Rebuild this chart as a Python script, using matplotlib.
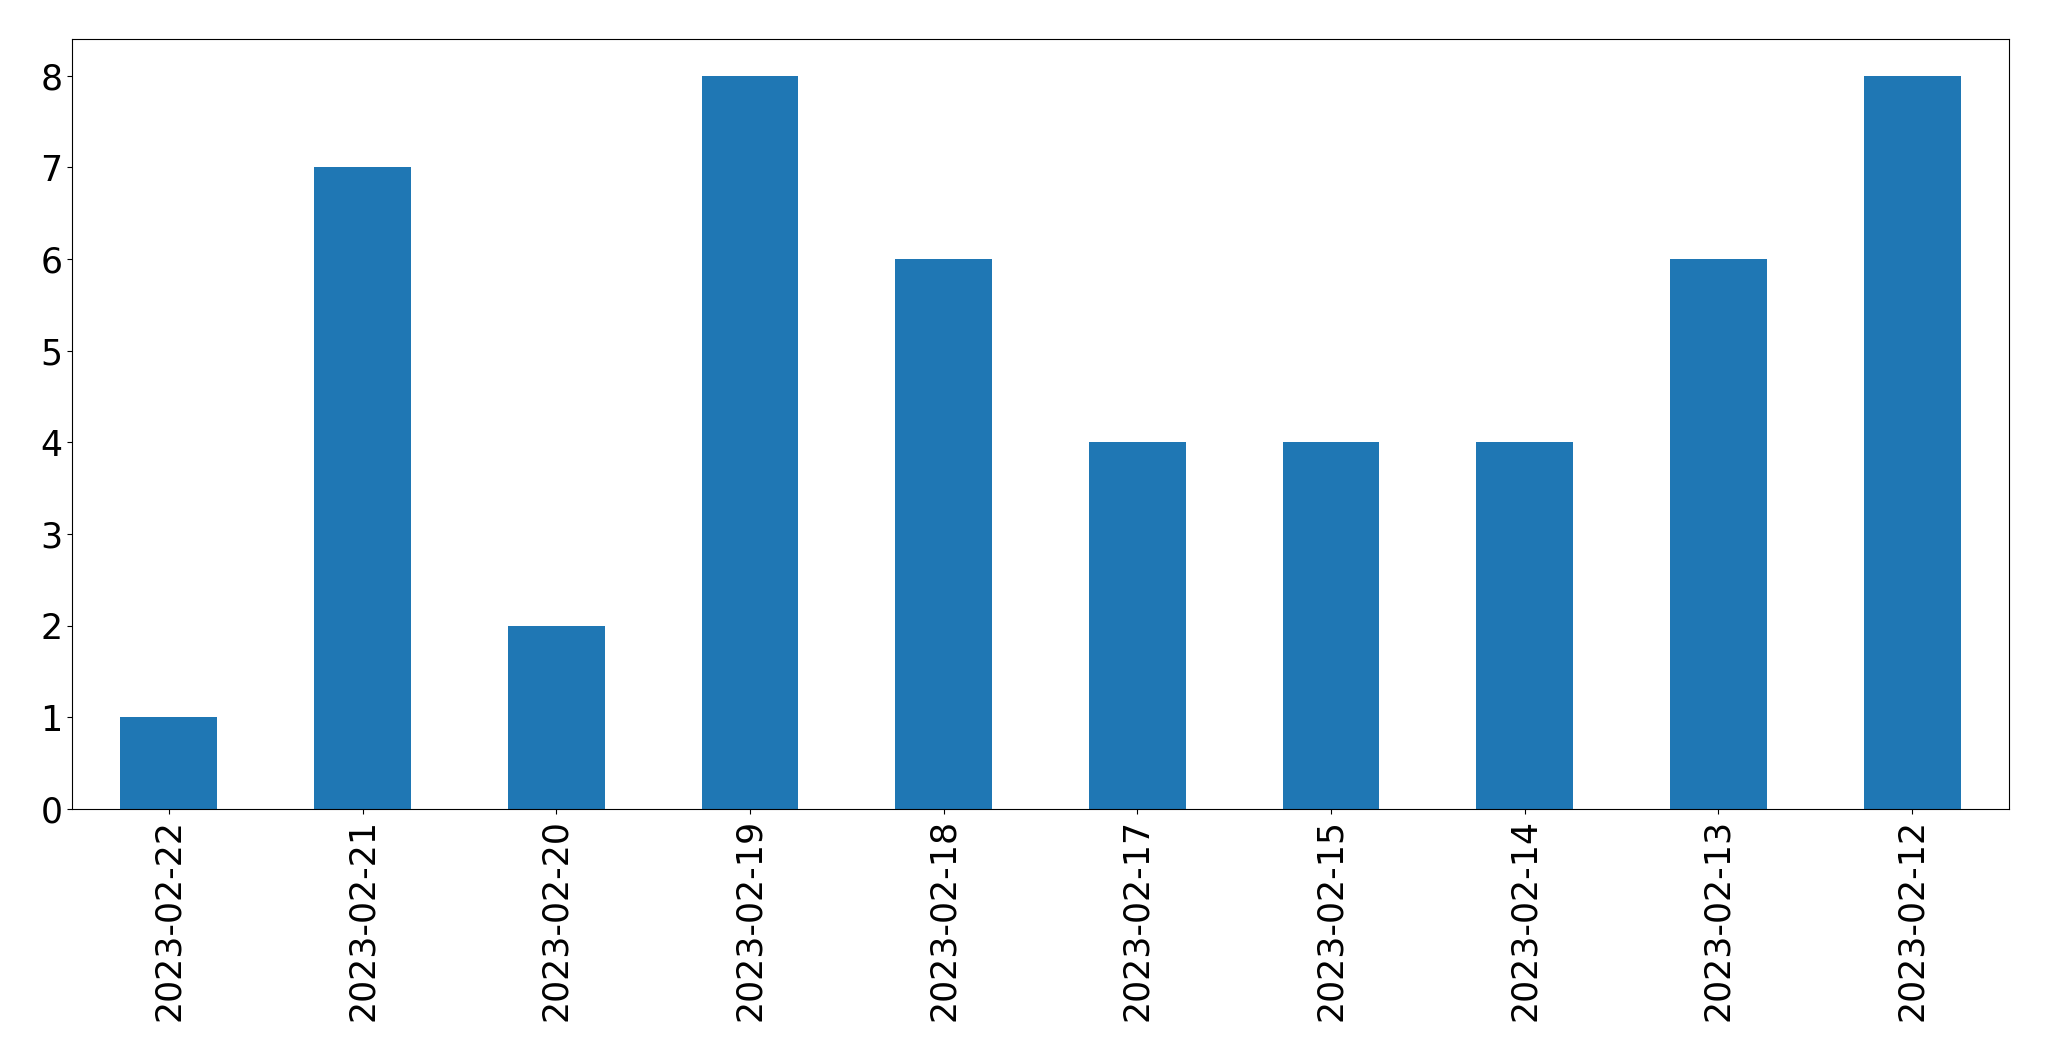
import matplotlib
matplotlib.use("Agg")
import matplotlib.pyplot as plt

dates = ["2023-02-22", "2023-02-21", "2023-02-20", "2023-02-19", "2023-02-18",
         "2023-02-17", "2023-02-15", "2023-02-14", "2023-02-13", "2023-02-12"]
counts = [1, 7, 2, 8, 6, 4, 4, 4, 6, 8]

fig = plt.figure(figsize=(20.49, 10.61), dpi=100)
ax = fig.add_axes([72/2049, 1 - 809/1061, (2009-72)/2049, (809-39)/1061])
x = list(range(len(dates)))
ax.bar(x, counts, width=0.5, color="#1f77b4")
ax.set_xlim(-0.5, len(dates) - 0.5)
ax.set_ylim(0, 8.4)
ax.set_xticks(x)
ax.set_xticklabels(dates, rotation=90)
ax.tick_params(axis="both", labelsize=25)
fig.savefig("out.png", dpi=100)
